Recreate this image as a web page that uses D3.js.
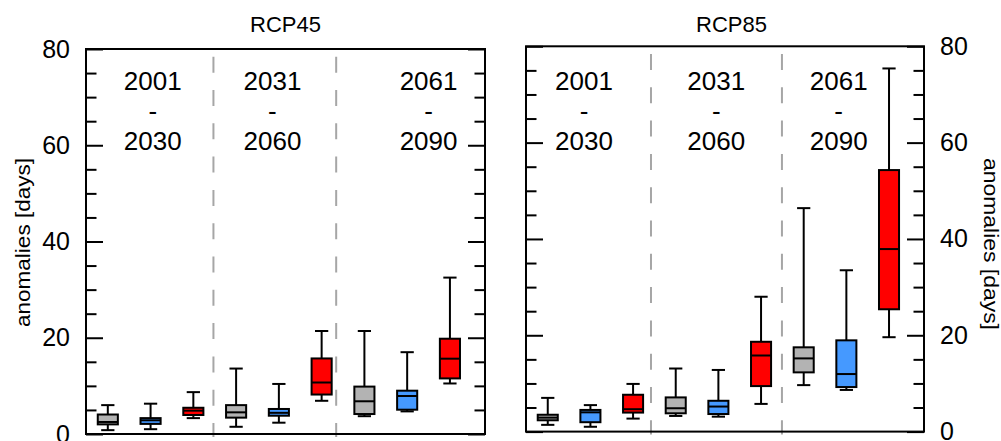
<!DOCTYPE html>
<html><head><meta charset="utf-8">
<script src="https://cdn.jsdelivr.net/npm/d3@7"></script>
<style>
html,body{margin:0;padding:0;background:#fff;}
svg text{font-family:"Liberation Sans",Arial,sans-serif;fill:#000;}
</style></head>
<body><svg id="c" width="1001" height="441"></svg>
<script>
// ---- data ----
const positions = [1,2,3,4,5,6,7,8,9];
const models = ["gray","blue","red","gray","blue","red","gray","blue","red"];
const colors = {gray:"#b3b3b3", blue:"#4599ff", red:"#ff0000"};
const periodTop = ["2001","2031","2061"];
const periodBottom = ["2030","2060","2090"];
const yMajor = [0,20,40,60,80];
const yMinor = [5,10,15,25,30,35,45,50,55,65,70,75];

// RCP45 box statistics
const rcp45Lo  = [0.8, 1.0, 3.3, 1.5, 2.35, 6.9, 3.7, 4.7, 10.5];
const rcp45Q1  = [2.0, 2.1, 3.95, 3.4, 3.8, 8.2, 4.15, 5.05, 11.55];
const rcp45Med = [2.5, 2.85, 4.85, 4.5, 4.4, 10.7, 6.8, 7.9, 15.65];
const rcp45Q3  = [4.05, 3.3, 5.45, 6.0, 5.2, 15.7, 9.85, 9.0, 19.8];
const rcp45Hi  = [6.0, 6.3, 8.7, 13.6, 10.4, 21.4, 21.4, 17.0, 32.5];
// RCP85 box statistics
const rcp85Lo  = [1.4, 1.0, 2.7, 3.25, 3.1, 5.75, 9.65, 8.65, 19.6];
const rcp85Q1  = [2.35, 1.95, 3.95, 3.8, 3.65, 9.45, 12.3, 9.25, 25.4];
const rcp85Med = [2.9, 4.0, 4.65, 4.85, 5.2, 15.8, 15.2, 11.95, 37.9];
const rcp85Q3  = [3.5, 4.5, 7.65, 7.1, 6.4, 18.65, 17.5, 18.95, 54.3];
const rcp85Hi  = [7.0, 5.5, 9.9, 13.1, 12.8, 28.0, 46.4, 33.5, 75.4];

const rcp45Dividers = [3.47, 6.34];
const rcp85Dividers = [3.42, 6.49];
const rcp45LabelX = [2.05, 4.85, 8.5];
const rcp85LabelX = [1.85, 4.95, 7.82];

const svg = d3.select("#c");

function rows(lo,q1,med,q3,hi){
  return positions.map((p,i)=>({pos:p, model:models[i], lo:lo[i], q1:q1[i], med:med[i], q3:q3[i], hi:hi[i]}));
}

const panels = [
  {title:"RCP45", titleX:285.5, x0:86, x1:485, yTop:49, yBot:434, side:"left",
   data:rows(rcp45Lo,rcp45Q1,rcp45Med,rcp45Q3,rcp45Hi), dividers:rcp45Dividers, labelX:rcp45LabelX},
  {title:"RCP85", titleX:731.5, x0:526, x1:924, yTop:46.3, yBot:431.6, side:"right",
   data:rows(rcp85Lo,rcp85Q1,rcp85Med,rcp85Q3,rcp85Hi), dividers:rcp85Dividers, labelX:rcp85LabelX}
];

panels.forEach(P=>{
  const x = d3.scaleLinear().domain([0.49, 9.82]).range([P.x0, P.x1]);
  const y = d3.scaleLinear().domain([0,80]).range([P.yBot, P.yTop]);
  const g = svg.append("g");

  // dividers
  g.selectAll("line.div").data(P.dividers).join("line")
    .attr("x1",d=>x(d)).attr("x2",d=>x(d))
    .attr("y1",P.yTop).attr("y2",P.yBot+3)
    .attr("stroke","#a6a6a6").attr("stroke-width",2)
    .attr("stroke-dasharray","16,17.3").attr("stroke-dashoffset",25.6);

  // axes ticks
  function ax(axisFn, xpos, vals, size, labels){
    const a = axisFn(y).tickValues(vals).tickSize(-size).tickPadding(16);
    if(!labels) a.tickFormat("");
    const ag = g.append("g").attr("transform",`translate(${xpos},0)`).call(a);
    ag.select(".domain").remove();
    ag.selectAll("line").attr("stroke","#000").attr("stroke-width",2);
    ag.selectAll("text").attr("font-size",25).attr("font-family","Liberation Sans, Arial, sans-serif").attr("fill","#000");
  }
  ax(d3.axisLeft, P.x0, yMajor, 17, P.side==="left");
  ax(d3.axisLeft, P.x0, yMinor, 10.5, false);
  ax(d3.axisRight, P.x1, yMajor, 17, P.side==="right");
  ax(d3.axisRight, P.x1, yMinor, 10.5, false);

  // boxes
  const bw = 0.47, cw = 0.31;
  const b = g.selectAll("g.box").data(P.data).join("g");
  b.append("line").attr("x1",d=>x(d.pos)).attr("x2",d=>x(d.pos))
    .attr("y1",d=>y(d.hi)).attr("y2",d=>y(d.lo)).attr("stroke","#000").attr("stroke-width",2);
  b.append("line").attr("x1",d=>x(d.pos-cw/2)).attr("x2",d=>x(d.pos+cw/2))
    .attr("y1",d=>y(d.hi)).attr("y2",d=>y(d.hi)).attr("stroke","#000").attr("stroke-width",2);
  b.append("line").attr("x1",d=>x(d.pos-cw/2)).attr("x2",d=>x(d.pos+cw/2))
    .attr("y1",d=>y(d.lo)).attr("y2",d=>y(d.lo)).attr("stroke","#000").attr("stroke-width",2);
  b.append("rect").attr("x",d=>x(d.pos-bw/2)).attr("width",d=>x(d.pos+bw/2)-x(d.pos-bw/2))
    .attr("y",d=>y(d.q3)).attr("height",d=>y(d.q1)-y(d.q3))
    .attr("fill",d=>colors[d.model]).attr("stroke","#000").attr("stroke-width",2);
  b.append("line").attr("x1",d=>x(d.pos-bw/2)).attr("x2",d=>x(d.pos+bw/2))
    .attr("y1",d=>y(d.med)).attr("y2",d=>y(d.med)).attr("stroke","#000").attr("stroke-width",2);

  // frame
  g.append("rect").attr("x",P.x0).attr("y",P.yTop).attr("width",P.x1-P.x0).attr("height",P.yBot-P.yTop)
    .attr("fill","none").attr("stroke","#000").attr("stroke-width",2);

  // period labels
  P.labelX.forEach((lx,i)=>{
    const t = g.append("text").attr("x",x(lx)).attr("text-anchor","middle").attr("font-size",26);
    t.append("tspan").attr("x",x(lx)).attr("y",90).text(periodTop[i]);
    t.append("tspan").attr("x",x(lx)).attr("y",120).text("-");
    t.append("tspan").attr("x",x(lx)).attr("y",150).text(periodBottom[i]);
  });

  // title
  g.append("text").attr("x",P.titleX).attr("y",32.3).attr("text-anchor","middle").attr("font-size",22).text(P.title);
});

// y axis labels
svg.append("text").attr("transform","translate(29.5,242.5) rotate(-90)").attr("text-anchor","middle")
  .attr("font-size",21).attr("textLength",169).attr("lengthAdjust","spacingAndGlyphs").text("anomalies [days]");
svg.append("text").attr("transform","translate(983.5,244) rotate(90)").attr("text-anchor","middle")
  .attr("font-size",21).attr("textLength",172).attr("lengthAdjust","spacingAndGlyphs").text("anomalies [days]");
</script></body></html>
